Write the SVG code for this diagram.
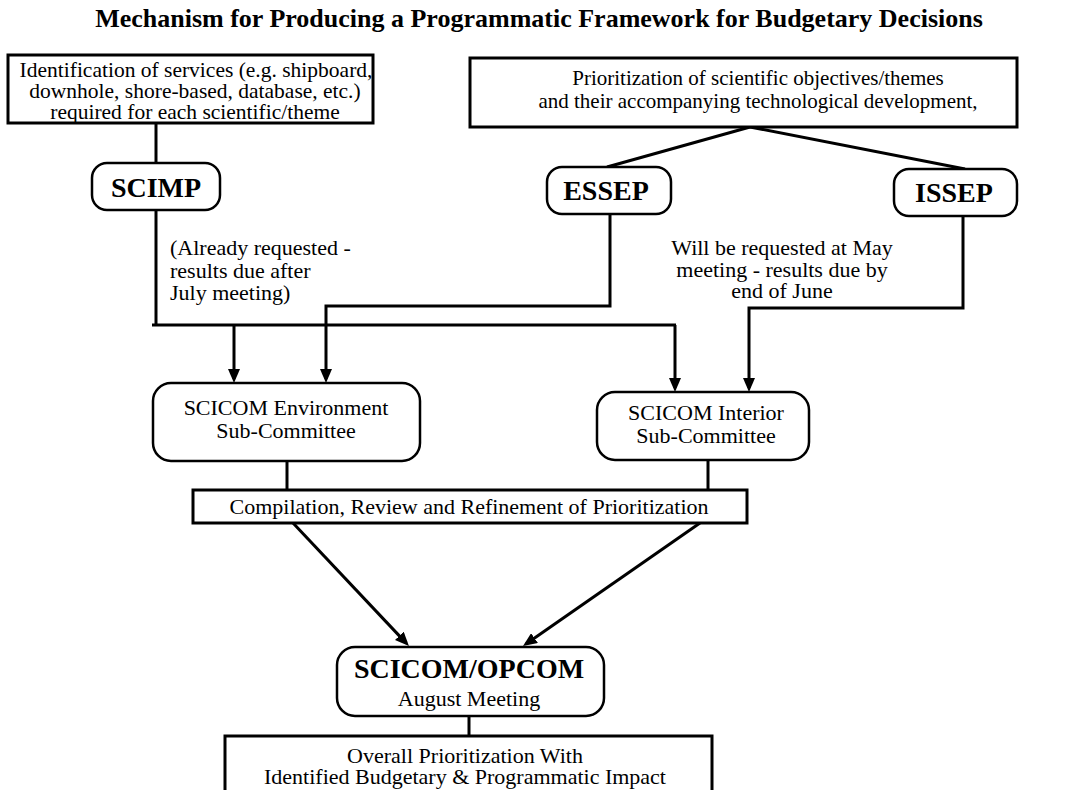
<svg xmlns="http://www.w3.org/2000/svg" width="1078" height="790" viewBox="0 0 1078 790">
<defs>
<style>
.t{font-family:"Liberation Serif","Times New Roman",serif;font-size:22px;fill:#000;text-anchor:middle}
.b{font-family:"Liberation Serif","Times New Roman",serif;font-weight:bold;font-size:28px;fill:#000;text-anchor:middle}
.box{fill:#fff;stroke:#000;stroke-width:3}
.rbox{fill:#fff;stroke:#000;stroke-width:2.5}
.ln{fill:none;stroke:#000;stroke-width:3}
</style>
<marker id="ah" viewBox="0 0 14 12" refX="10" refY="6" markerWidth="14" markerHeight="12" markerUnits="userSpaceOnUse" orient="auto">
<path d="M0,0 L14,6 L0,12 z" fill="#000"/>
</marker>
</defs>
<rect width="1078" height="790" fill="#fff"/>
<text class="b" x="539" y="27" style="font-size:26px">Mechanism for Producing a Programmatic Framework for Budgetary Decisions</text>
<g id="connectors">
<line class="ln" x1="156" y1="123" x2="156" y2="163"/>
<line class="ln" x1="750" y1="127" x2="607" y2="167"/>
<line class="ln" x1="750" y1="127" x2="965" y2="169"/>
<line class="ln" x1="156" y1="210" x2="156" y2="325"/>
<line class="ln" x1="152" y1="325" x2="676" y2="325"/>
<line class="ln" x1="234" y1="325" x2="234" y2="379" marker-end="url(#ah)"/>
<polyline class="ln" points="675,325 675,388" marker-end="url(#ah)"/>
<polyline class="ln" points="610,214 610,306 326,306 326,379" marker-end="url(#ah)"/>
<polyline class="ln" points="963,216 963,308 749,308 749,388" marker-end="url(#ah)"/>
<line class="ln" x1="287" y1="461" x2="287" y2="490"/>
<line class="ln" x1="708" y1="460" x2="708" y2="490"/>
<line class="ln" x1="293" y1="523" x2="406.2" y2="643.1" marker-end="url(#ah)"/>
<line class="ln" x1="700" y1="523" x2="526.3" y2="643.8" marker-end="url(#ah)"/>
<line class="ln" x1="469" y1="716" x2="469" y2="736"/>
</g>
<g id="services">
<rect class="box" x="8" y="55" width="365" height="68"/>
<text class="t" x="196" y="77" style="font-size:21.5px">Identification of services (e.g. shipboard,</text>
<text class="t" x="195" y="98" style="font-size:21.5px">downhole, shore-based, database, etc.)</text>
<text class="t" x="195" y="119" style="font-size:21.5px">required for each scientific/theme</text>
</g>
<g id="prioritization">
<rect class="box" x="470" y="58" width="547" height="69"/>
<text class="t" x="758" y="85" style="font-size:21px">Prioritization of scientific objectives/themes</text>
<text class="t" x="758" y="108" style="font-size:21px">and their accompanying technological development,</text>
</g>
<g id="scimp">
<rect class="rbox" x="92" y="163" width="128" height="47" rx="15"/>
<text class="b" x="156" y="197">SCIMP</text>
</g>
<g id="essep">
<rect class="rbox" x="547" y="167" width="124" height="47" rx="15"/>
<text class="b" x="606" y="200">ESSEP</text>
</g>
<g id="issep">
<rect class="rbox" x="894" y="169" width="123" height="47" rx="15"/>
<text class="b" x="954" y="202">ISSEP</text>
</g>
<g id="label-scimp">
<text class="t" x="170" y="255" style="text-anchor:start">(Already requested -</text>
<text class="t" x="170" y="278" style="text-anchor:start">results due after</text>
<text class="t" x="170" y="300" style="text-anchor:start">July meeting)</text>
</g>
<g id="label-sep">
<text class="t" x="782" y="255">Will be requested at May</text>
<text class="t" x="782" y="277">meeting - results due by</text>
<text class="t" x="782" y="298">end of June</text>
</g>
<g id="env">
<rect class="rbox" x="153" y="383" width="267" height="78" rx="18"/>
<text class="t" x="286" y="415">SCICOM Environment</text>
<text class="t" x="286" y="438">Sub-Committee</text>
</g>
<g id="interior">
<rect class="rbox" x="597" y="392" width="212" height="68" rx="18"/>
<text class="t" x="706" y="420">SCICOM Interior</text>
<text class="t" x="706" y="443">Sub-Committee</text>
</g>
<g id="compilation">
<rect class="box" x="193" y="490" width="554" height="33"/>
<text class="t" x="469" y="514">Compilation, Review and Refinement of Prioritization</text>
</g>
<g id="opcom">
<rect class="rbox" x="337" y="647" width="267" height="69" rx="18"/>
<text class="b" x="469" y="678">SCICOM/OPCOM</text>
<text class="t" x="469" y="706">August Meeting</text>
</g>
<g id="overall">
<rect class="box" x="225" y="736" width="487" height="70"/>
<text class="t" x="465" y="763">Overall Prioritization With</text>
<text class="t" x="465" y="784">Identified Budgetary &amp; Programmatic Impact</text>
</g>
</svg>
